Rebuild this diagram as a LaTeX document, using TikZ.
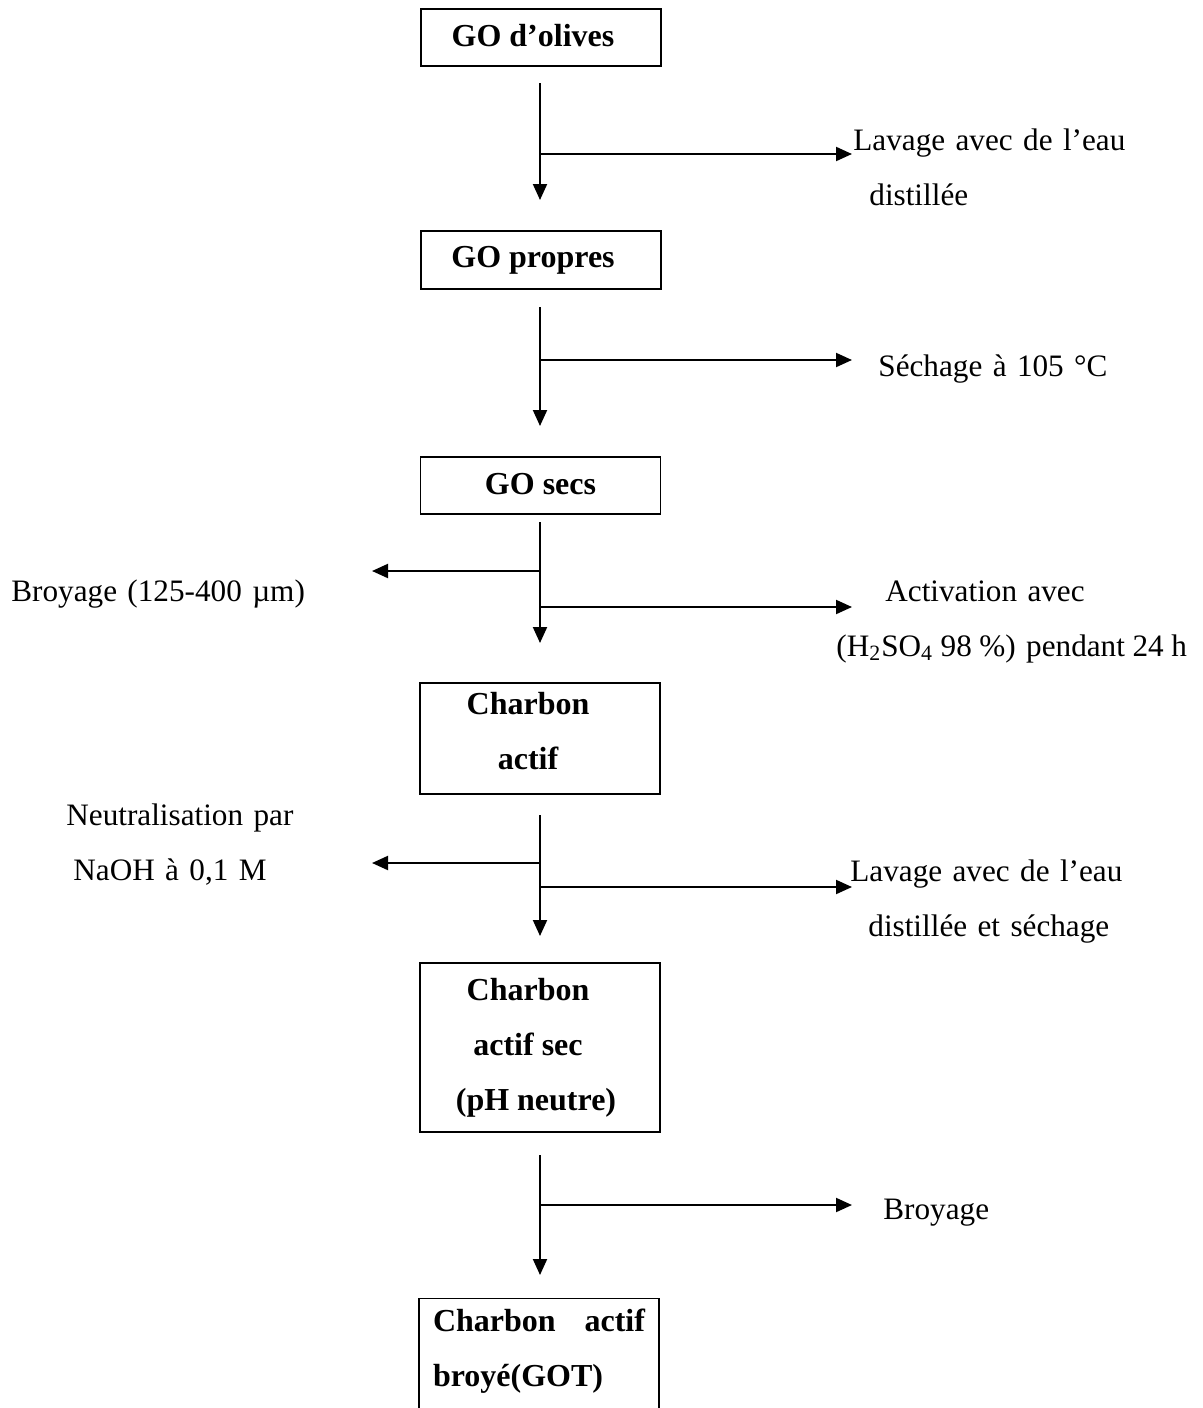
\documentclass[tikz,border=0pt]{standalone}
\usepackage{fontspec}
\setmainfont{Liberation Serif}
\usetikzlibrary{arrows.meta}
\newcommand\taille{\fontsize{16pt}{27.5pt}\selectfont}
\newcommand\petit{\fontsize{15.6pt}{27.5pt}\selectfont}

\begin{document}
\begin{tikzpicture}[x=0.5pt,y=-0.5pt,  % 1 unité = 1 pixel de la figure
    boite/.style={draw, line width=0.7pt, minimum width=120pt, align=center, inner sep=0pt, font=\taille\bfseries},
    etiq/.style={anchor=base west, inner sep=0pt, text width=190pt, align=left, font=\petit},
    fleche/.style={line width=1pt, -{Triangle[length=8pt,width=7pt]}}]

        % cadre de la figure
        \useasboundingbox (0,0) rectangle (1203,1408);

        % les boites des étapes
        \node[boite, minimum height=28.5pt] (b1) at (541,37.5) {\raisebox{2pt}{\hspace*{-8pt}GO d’olives}};
        \node[boite, minimum height=29pt] (b2) at (541,260) {\raisebox{2pt}{\hspace*{-8pt}GO propres}};
        \node[boite, minimum height=28.5pt] (b3) at (540.5,485.5) {\raisebox{2pt}{GO secs}};
        \node[boite, minimum height=55.5pt] (b4) at (540,738.5) {\hspace*{-12pt}Charbon\\\hspace*{-12pt}actif\rule[-8pt]{0pt}{0pt}};
        \node[boite, minimum height=84.5pt] (b5) at (540,1047.5) {\hspace*{-12pt}Charbon\\\hspace*{-12pt}actif sec\\\hspace*{-4pt}(pH neutre)\rule[-3pt]{0pt}{0pt}};
        \node[boite, anchor=base, text width=106pt, align=left, inner xsep=6.75pt, inner ysep=5pt, text depth=45pt] (b6) at (539,1331) {Charbon\hfill actif\\broyé(GOT)};

        % les opérations
        \node[etiq] (e1) at (853,150) {Lavage avec de l’eau\\\hspace*{8pt}distillée};
        \node[etiq] (e2) at (878,376) {Séchage à 105~°C};
        \node[etiq] (e3) at (11,601) {Broyage (125-400 µm)};
        \node[etiq] (e4) at (836,601) {\hspace*{24.5pt}Activation avec\\(H\textsubscript{2}SO\textsubscript{4}\hspace{3.8pt}98\hspace{3.8pt}\%) pendant\hspace{3.8pt}24\hspace{3.8pt}h};
        \node[etiq] (e5) at (66,825) {Neutralisation par\\\hspace*{3.5pt}NaOH à 0,1~M};
        \node[etiq] (e6) at (850,881) {Lavage avec de l’eau\\\hspace*{9pt}distillée et séchage};
        \node[etiq] (e7) at (883,1219) {Broyage};

        % points des flèches verticales
        \coordinate (d1) at (540,83);   \coordinate (f1) at (540,200);
        \coordinate (d2) at (540,307);  \coordinate (f2) at (540,426);
        \coordinate (d3) at (540,522);  \coordinate (f3) at (540,643);
        \coordinate (d4) at (540,815);  \coordinate (f4) at (540,936);
        \coordinate (d5) at (540,1155); \coordinate (f5) at (540,1275);

        % points des branches
        \coordinate (r1) at (540,154);  \coordinate (s1) at (852,154);
        \coordinate (r2) at (540,360);  \coordinate (s2) at (852,360);
        \coordinate (g3) at (540,571);  \coordinate (h3) at (372,571);
        \coordinate (r3) at (540,607);  \coordinate (s3) at (852,607);
        \coordinate (g4) at (540,863);  \coordinate (h4) at (372,863);
        \coordinate (r4) at (540,887);  \coordinate (s4) at (852,887);
        \coordinate (r5) at (540,1205); \coordinate (s5) at (852,1205);

        % flèches verticales
        \draw[fleche] (d1) -- (f1);
        \draw[fleche] (d2) -- (f2);
        \draw[fleche] (d3) -- (f3);
        \draw[fleche] (d4) -- (f4);
        \draw[fleche] (d5) -- (f5);

        % flèches vers les opérations
        \draw[fleche] (r1) -- (s1);
        \draw[fleche] (r2) -- (s2);
        \draw[fleche] (g3) -- (h3);
        \draw[fleche] (r3) -- (s3);
        \draw[fleche] (g4) -- (h4);
        \draw[fleche] (r4) -- (s4);
        \draw[fleche] (r5) -- (s5);

    \end{tikzpicture}
\end{document}
